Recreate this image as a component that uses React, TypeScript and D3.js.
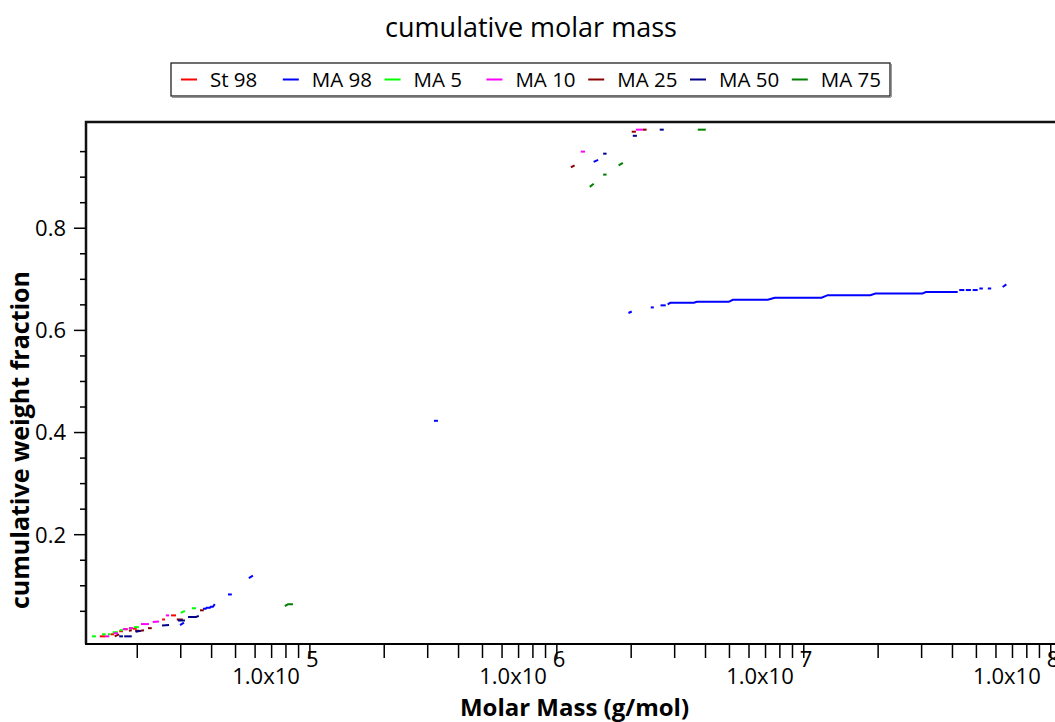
import React from 'react';
import * as d3 from 'd3';

type Pt = [number, number];

const seriesNames = ['St 98', 'MA 98', 'MA 5', 'MA 10', 'MA 25', 'MA 50', 'MA 75'];
const seriesColors = ['#ff0000', '#0000ff', '#00ff00', '#ff00ff', '#8b0000', '#00008b', '#008000'];

// each series is a list of short runs: [molar mass, cumulative weight fraction]
const st98: Pt[][] = [
  [[14100, 0.001], [14800, 0.001]],
  [[15600, 0.005], [16100, 0.005]],
  [[16900, 0.011], [17500, 0.011]],
  [[17700, 0.015], [18300, 0.015]],
  [[19200, 0.016], [19900, 0.016]],
  [[25200, 0.034], [25900, 0.034]],
  [[27400, 0.042], [28700, 0.042]],
];

const ma98: Pt[][] = [
  [[29800, 0.023], [30900, 0.028]],
  [[36900, 0.055], [37900, 0.055], [38200, 0.057], [39400, 0.057], [39700, 0.059], [40500, 0.059], [41200, 0.064]],
  [[46600, 0.083], [48300, 0.083]],
  [[56600, 0.115], [58800, 0.120]],
  [[318000, 0.423], [330000, 0.423]],
  [[1410000, 0.930], [1470000, 0.934]],
  [[1950000, 0.634], [2010000, 0.637]],
  [[2400000, 0.645], [2470000, 0.645]],
  [[2630000, 0.649], [2760000, 0.649]],
  [[2810000, 0.651], [2880000, 0.654], [3590000, 0.654], [3690000, 0.656], [4970000, 0.656],
   [5160000, 0.660], [7150000, 0.660], [7630000, 0.664], [11800000, 0.664], [12500000, 0.669],
   [18600000, 0.669], [19500000, 0.672], [30200000, 0.672], [31200000, 0.675], [42000000, 0.675]],
  [[42600000, 0.679], [44700000, 0.679]],
  [[45300000, 0.679], [47500000, 0.679]],
  [[48300000, 0.679], [50600000, 0.679]],
  [[51400000, 0.682], [53100000, 0.682]],
  [[55600000, 0.682], [57400000, 0.682]],
  [[63900000, 0.685], [66100000, 0.690]],
];

const ma5: Pt[][] = [
  [[13100, 0.001], [13600, 0.001]],
  [[14400, 0.005], [14900, 0.005]],
  [[15200, 0.005], [15600, 0.005]],
  [[15900, 0.009], [16700, 0.009]],
  [[17000, 0.013], [17500, 0.013]],
  [[18500, 0.017], [19200, 0.017]],
  [[19400, 0.019], [20300, 0.019]],
  [[30000, 0.047], [31200, 0.051]],
  [[33300, 0.056], [34600, 0.056]],
];

const ma10: Pt[][] = [
  [[14800, 0.001], [15400, 0.001]],
  [[16100, 0.007], [16700, 0.007]],
  [[17500, 0.015], [18200, 0.015]],
  [[18500, 0.017], [19200, 0.017]],
  [[20700, 0.025], [22300, 0.025]],
  [[23100, 0.029], [24500, 0.030]],
  [[26100, 0.042], [26900, 0.042]],
  [[1250000, 0.950], [1300000, 0.950]],
  [[2090000, 0.993], [2230000, 0.993]],
];

const ma25: Pt[][] = [
  [[16200, 0.001], [16900, 0.005]],
  [[18500, 0.012], [19000, 0.013]],
  [[19600, 0.012], [20300, 0.012]],
  [[20700, 0.012], [21300, 0.013]],
  [[22100, 0.017], [22900, 0.017]],
  [[28900, 0.034], [30600, 0.034]],
  [[35900, 0.052], [37200, 0.052]],
  [[1140000, 0.919], [1180000, 0.923]],
  [[2010000, 0.989], [2090000, 0.989]],
  [[2230000, 0.993], [2310000, 0.993]],
];

const ma50: Pt[][] = [
  [[16900, 0.001], [17500, 0.001]],
  [[17700, 0.001], [19000, 0.001]],
  [[19700, 0.010], [20700, 0.012]],
  [[25200, 0.022], [26900, 0.023]],
  [[29200, 0.032], [31200, 0.032]],
  [[32100, 0.039], [34600, 0.039], [35500, 0.041]],
  [[1540000, 0.946], [1590000, 0.946]],
  [[2030000, 0.981], [2110000, 0.981]],
  [[2610000, 0.993], [2710000, 0.993]],
];

const ma75: Pt[][] = [
  [[79200, 0.060], [81500, 0.064], [85400, 0.064]],
  [[1360000, 0.881], [1410000, 0.887]],
  [[1540000, 0.905], [1590000, 0.905]],
  [[1780000, 0.923], [1850000, 0.928]],
  [[3720000, 0.993], [4010000, 0.993]],
];

const seriesData = [st98, ma98, ma5, ma10, ma25, ma50, ma75];

const yMajorTicks = [0.2, 0.4, 0.6, 0.8];
const yMinorTicks = [0.05, 0.1, 0.15, 0.25, 0.3, 0.35, 0.45, 0.5, 0.55, 0.65, 0.7, 0.75, 0.85, 0.9, 0.95];
const xDecades = [1e5, 1e6, 1e7, 1e8];
const xExponents = ['5', '6', '7', '8'];

const FONT = "'Open Sans', 'Noto Sans', sans-serif";

export default function App() {
  const W = 1055;
  const H = 722;
  const left = 86, right = 1058, top = 122, bottom = 644;

  const x = d3.scaleLog().domain([12400, 1.07e8]).range([left, right]);
  const y = d3.scaleLinear().domain([-0.014, 1.008]).range([bottom, top]);

  const line = d3.line<Pt>().x(d => x(d[0])).y(d => y(d[1]));

  const minorX = x.ticks().filter(t => !xDecades.includes(t) && x(t) > left + 2 && x(t) < W);

  const legendX0 = 181;
  const legendStep = 101.8;

  return (
    <div style={{ position: 'absolute', left: 0, top: 0 }}>
      <svg width={W} height={H} style={{ display: 'block', fontFamily: FONT }}>
        <rect width={W} height={H} fill="#ffffff" />

        <text x={531} y={37} textAnchor="middle" fontSize={27} fill="#000">cumulative molar mass</text>

        {/* legend */}
        <rect x={171} y={63} width={719} height={33} fill="#fff" stroke="#222" strokeWidth={1.3} />
        <line x1={172} y1={97.5} x2={891} y2={97.5} stroke="#999" strokeWidth={1} />
        <line x1={891.5} y1={64} x2={891.5} y2={97} stroke="#999" strokeWidth={1} />
        {seriesNames.map((name, i) => (
          <g key={name} transform={`translate(${legendX0 + i * legendStep},0)`}>
            <line x1={0} x2={16} y1={79.5} y2={79.5} stroke={seriesColors[i]} strokeWidth={2} />
            <text x={29} y={86.5} fontSize={20.5} fill="#000">{name}</text>
          </g>
        ))}

        {/* series */}
        <g fill="none" strokeWidth={2}>
          {seriesData.map((runs, i) => (
            <g key={seriesNames[i]} stroke={seriesColors[i]}>
              {runs.map((run, j) => (
                <path key={j} d={line(run) || ''} />
              ))}
            </g>
          ))}
        </g>

        {/* frame */}
        <path d={`M${left},${bottom}V${top}H${right}`} fill="none" stroke="#111" strokeWidth={2.5} />
        <line x1={left - 1} x2={W} y1={bottom} y2={bottom} stroke="#000" strokeWidth={2} />

        {/* y axis */}
        {yMajorTicks.map(t => (
          <g key={t}>
            <line x1={left - 12} x2={left} y1={y(t)} y2={y(t)} stroke="#000" strokeWidth={1.5} />
            <text x={left - 20} y={y(t)} dy="0.36em" textAnchor="end" fontSize={22} fill="#000">{t.toFixed(1)}</text>
          </g>
        ))}
        {yMinorTicks.map(t => (
          <line key={t} x1={left - 6} x2={left} y1={y(t)} y2={y(t)} stroke="#000" strokeWidth={1.5} />
        ))}
        <text transform={`translate(29,440) rotate(-90)`} textAnchor="middle" fontSize={25} fontWeight="bold" fill="#000">cumulative weight fraction</text>

        {/* x axis */}
        {minorX.map(t => (
          <line key={t} x1={x(t)} x2={x(t)} y1={bottom} y2={bottom + 14} stroke="#000" strokeWidth={1.5} />
        ))}
        {xDecades.map((t, i) => (
          <g key={t}>
            <line x1={x(t)} x2={x(t)} y1={bottom} y2={bottom + 14} stroke="#000" strokeWidth={1.5} />
            <text x={x(t) - 10} y={684} textAnchor="end" fontSize={22} fill="#000">1.0x10</text>
            <text x={x(t) - 4} y={667} fontSize={22} fill="#000">{xExponents[i]}</text>
          </g>
        ))}
        <text x={(left + W) / 2 + 4} y={716} textAnchor="middle" fontSize={24} fontWeight="bold" fill="#000">Molar Mass (g/mol)</text>
      </svg>
    </div>
  );
}
